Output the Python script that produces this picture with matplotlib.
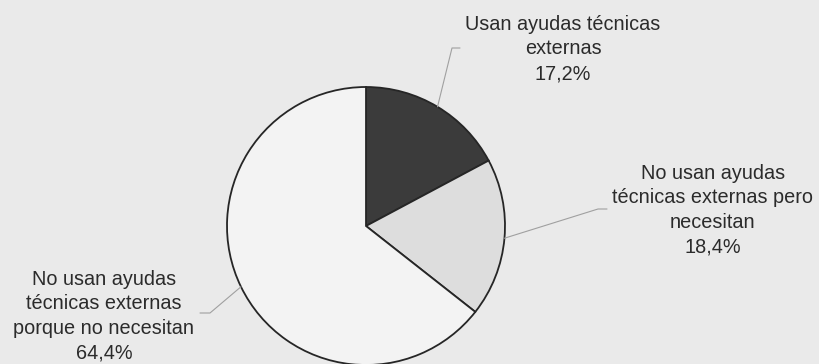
import numpy as np
import matplotlib.pyplot as plt

plt.rcParams["font.family"] = ["Liberation Sans", "DejaVu Sans"]

# share of people by use of external technical aids (%)
labels = [
    "Usan ayudas técnicas\nexternas",
    "No usan ayudas\ntécnicas externas pero\nnecesitan",
    "No usan ayudas\ntécnicas externas\nporque no necesitan",
]
values = [17.2, 18.4, 64.4]
colors = ["#3b3b3b", "#dddddd", "#f3f3f3"]

W, H = 820, 364
fig = plt.figure(figsize=(W / 100, H / 100), dpi=100)
fig.patch.set_facecolor("#eaeaea")
ax = fig.add_axes([0, 0, 1, 1])

cx, cy, r = 366, H - 226, 139
wedges, _ = ax.pie(
    values,
    colors=colors,
    startangle=90,
    counterclock=False,
    center=(cx, cy),
    radius=r,
    frame=True,
    wedgeprops=dict(edgecolor="#262626", linewidth=1.3),
)
ax.set_xlim(0, W)
ax.set_ylim(0, H)
ax.set_aspect("equal")
ax.axis("off")

# label text anchor, elbow point and end of the leader line (pixels from top)
text_pos = [(563, 49), (713, 210), (104, 316)]
elbows = [((452, 48), (460, 48)), ((598, 209), (607, 209)), ((210, 313), (200, 313))]

for w, lab, val, (tx, ty), (e1, e2) in zip(wedges, labels, values, text_pos, elbows):
    mid = np.deg2rad((w.theta1 + w.theta2) / 2)
    sx, sy = cx + r * np.cos(mid), cy + r * np.sin(mid)
    ax.plot(
        [sx, e1[0], e2[0]],
        [sy, H - e1[1], H - e2[1]],
        color="#a0a0a0",
        lw=0.8,
        solid_capstyle="round",
    )
    txt = lab + "\n" + f"{val:.1f}%".replace(".", ",")
    ax.text(
        tx, H - ty, txt,
        ha="center", va="center", multialignment="center",
        fontsize=14.3, color="#2b2b2b", linespacing=1.37,
    )

fig.savefig("out.png", dpi=100, facecolor=fig.get_facecolor())
